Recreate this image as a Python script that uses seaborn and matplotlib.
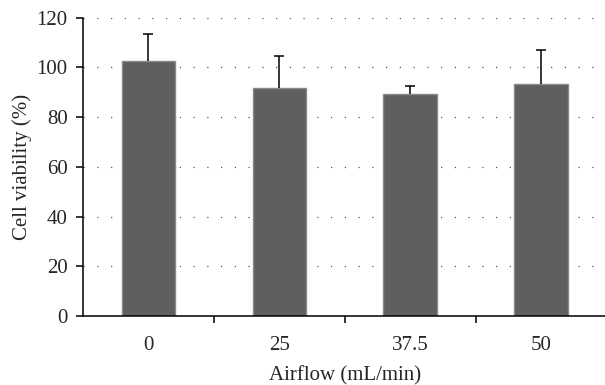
import matplotlib
matplotlib.use("Agg")
import matplotlib.pyplot as plt
import seaborn as sns
import pandas as pd
import numpy as np

categories = ["0", "25", "37.5", "50"]
viability = [102.4, 91.9, 89.2, 93.2]
sd_upper = [11.2, 12.9, 3.2, 13.7]

sns.set_style("white")
plt.rcParams["font.family"] = ["Liberation Serif", "DejaVu Serif"]

df = pd.DataFrame({"Airflow": categories, "Viability": viability})

fig = plt.figure(figsize=(6.05, 3.85), dpi=100)
ax = fig.add_axes([0.137, 0.179, 0.866, 0.775])

sns.barplot(data=df, x="Airflow", y="Viability", order=categories,
            color="#5f5f5f", saturation=1, width=0.41,
            edgecolor="#8a8a8a", linewidth=1.0, errorbar=None, ax=ax)

xpos = np.arange(len(categories))
eb = ax.errorbar(xpos, viability, yerr=[np.zeros(len(sd_upper)), sd_upper],
                 fmt="none", ecolor="black", elinewidth=1.1, capsize=3.3,
                 capthick=1.1, zorder=3)
for cl in eb[1]:
    if np.allclose(cl.get_ydata(), viability):
        cl.set_visible(False)

ax.set_xlim(-0.5, 3.5)
ax.set_ylim(0, 120)
ax.set_yticks([0, 20, 40, 60, 80, 100, 120])
ax.set_xticks(xpos)
ax.set_xticks([0.5, 1.5, 2.5], minor=True)

ax.set_axisbelow(True)
ax.yaxis.grid(True, color="#555555", linestyle=(0, (1, 10)), linewidth=0.9)
ax.xaxis.grid(False)

for side in ["top", "right"]:
    ax.spines[side].set_visible(False)
for side in ["left", "bottom"]:
    ax.spines[side].set_color("black")
    ax.spines[side].set_linewidth(1.1)

fs = 15
ax.tick_params(axis="y", which="major", direction="out", length=5, width=1.1,
               color="black", labelsize=fs, pad=6, left=True)
ax.tick_params(axis="x", which="major", length=0, labelsize=fs, pad=14)
ax.tick_params(axis="x", which="minor", direction="out", length=5, width=1.1,
               color="black", bottom=True)

ax.set_xlabel("Airflow (mL/min)", fontsize=fs, labelpad=8)
ax.set_ylabel("Cell viability (%)", fontsize=fs, labelpad=3)

fig.savefig("out.png", dpi=100)
